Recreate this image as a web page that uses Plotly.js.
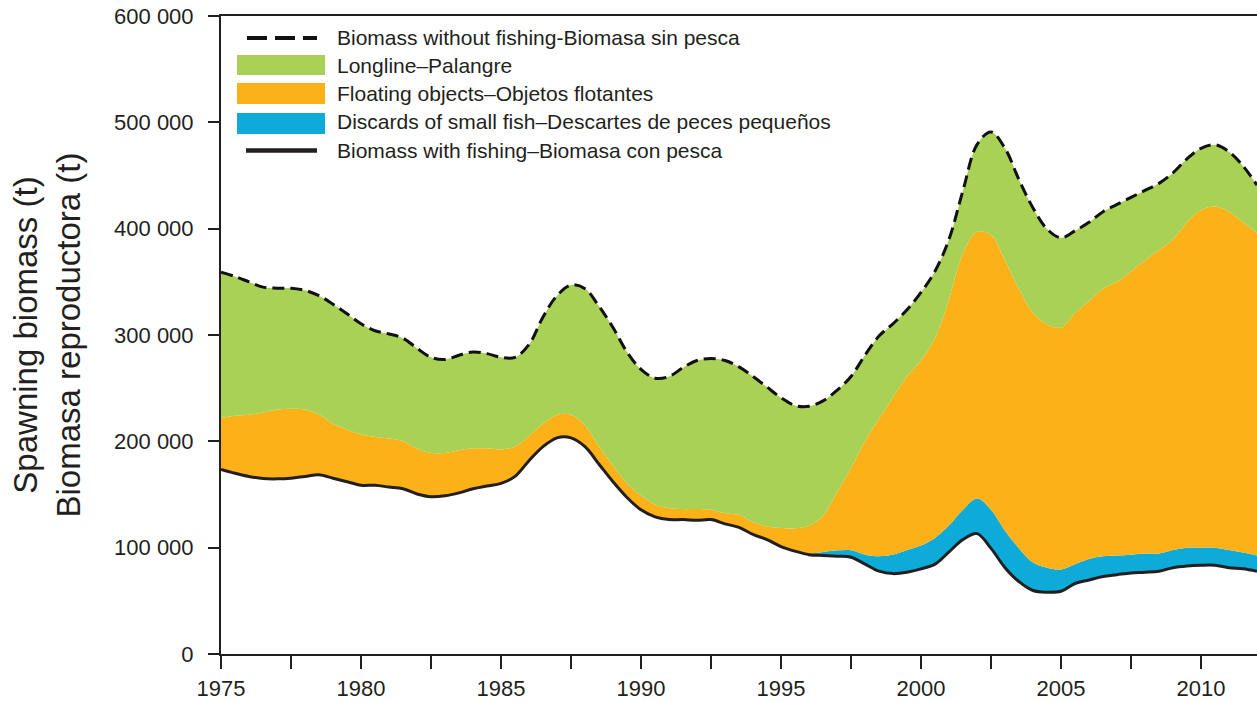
<!DOCTYPE html>
<html>
<head>
<meta charset="utf-8">
<script src="https://cdn.plot.ly/plotly-3.0.1.min.js"></script>
<style>html,body{margin:0;padding:0;background:#fff;}#chart{width:1257px;height:702px;}</style>
</head>
<body>
<div id="chart"></div>
<script>
// Years (half-year steps)
const years = [1975,1975.5,1976,1976.5,1977,1977.5,1978,1978.5,1979,1979.5,
  1980,1980.5,1981,1981.5,1982,1982.5,1983,1983.5,1984,1984.5,
  1985,1985.5,1986,1986.5,1987,1987.5,1988,1988.5,1989,1989.5,
  1990,1990.5,1991,1991.5,1992,1992.5,1993,1993.5,1994,1994.5,
  1995,1995.5,1996,1996.5,1997,1997.5,1998,1998.5,1999,1999.5,
  2000,2000.5,2001,2001.5,2002,2002.5,2003,2003.5,2004,2004.5,
  2005,2005.5,2006,2006.5,2007,2007.5,2008,2008.5,2009,2009.5,
  2010,2010.5,2011,2011.5,2012];

// Biomass with fishing (t)
const withFishing = [173600,170000,167000,165000,164700,165300,167000,168600,165300,162000,
  158700,158700,157000,155400,150500,147900,148800,151500,155400,158000,
  160400,167000,181800,195000,203300,203300,195000,178500,162000,147200,
  135600,129000,126400,126400,125700,126400,122400,119100,112500,107600,
  101000,96700,93400,92700,92000,91000,84500,77900,75600,76900,
  80000,84500,96000,107600,113200,99300,81200,68000,59700,58100,
  59000,66300,69600,72900,74600,76200,76900,77900,81200,82800,
  83500,83500,81200,80200,77900];

// Upper edge of the discards of small fish impact (t)
const plusDiscards = [173600,170000,167000,165000,164700,165300,167000,168600,165300,162000,
  158700,158700,157000,155400,150500,147900,148800,151500,155400,158000,
  160400,167000,181800,195000,203300,203300,195000,178500,162000,147200,
  135600,129000,126400,126400,125700,126400,122400,119100,112500,107600,
  101000,96700,94400,96000,97500,97500,93400,92000,93400,97700,
  102000,109200,120800,135600,146200,135600,115800,99300,86100,81200,
  79500,84500,89400,92000,92700,93400,94400,94400,97700,100000,
  100000,100000,97700,95400,92700];

// Upper edge of the floating-object impact (t)
const plusFloating = [222000,224000,225000,227000,230000,230700,230000,225000,216500,211000,
  206600,204000,202600,200000,193000,189000,189000,191700,193400,193400,
  192400,195000,205000,216500,224800,225000,214900,195000,177000,160400,
  148800,140600,137300,136300,136300,135600,132300,130700,124000,119800,
  118400,118200,120500,130000,152000,175000,200000,221500,241300,261000,
  276000,297000,333700,376600,397000,394000,370000,343000,321000,310000,
  307000,320500,332000,343600,350000,360000,370000,380000,389800,406000,
  417500,420800,416000,406000,396000];

// Biomass without fishing (t)
const withoutFishing = [359000,355000,350000,345000,344000,344000,342000,337000,329000,320000,
  310600,304000,301000,297000,287500,279000,277000,281000,284000,282500,
  279000,279000,291000,317000,337000,347000,343600,327000,307000,284000,
  267700,259400,261000,269300,276000,278000,276000,270000,261000,251000,
  241000,233700,233000,238000,248000,261000,281000,299000,310600,323800,
  340000,360000,390000,436000,479000,491000,475600,446000,419500,399700,
  391400,398000,406000,416000,422800,429400,436000,442600,452500,465700,
  475600,478900,472300,459000,441000];

const legendLabels = [
  'Biomass without fishing-Biomasa sin pesca',
  'Longline\u2013Palangre',
  'Floating objects\u2013Objetos flotantes',
  'Discards of small fish\u2013Descartes de peces peque\u00f1os',
  'Biomass with fishing\u2013Biomasa con pesca'
];

const GREEN = '#a9d155', ORANGE = '#fbb117', BLUE = '#0eaad8', INK = '#231f20';
const FONT = 'Arial, "Liberation Sans", Helvetica, sans-serif';
const spl = {shape: 'spline', smoothing: 1};

const traces = [
  {x: years, y: withFishing, mode: 'lines', line: Object.assign({width: 0, color: INK}, spl), showlegend: false, hoverinfo: 'skip'},
  {x: years, y: plusDiscards, mode: 'lines', fill: 'tonexty', fillcolor: BLUE, line: Object.assign({width: 0, color: BLUE}, spl), name: legendLabels[3], showlegend: false},
  {x: years, y: plusFloating, mode: 'lines', fill: 'tonexty', fillcolor: ORANGE, line: Object.assign({width: 0, color: ORANGE}, spl), name: legendLabels[2], showlegend: false},
  {x: years, y: withoutFishing, mode: 'lines', fill: 'tonexty', fillcolor: GREEN, line: Object.assign({width: 0, color: GREEN}, spl), name: legendLabels[1], showlegend: false},
  {x: years, y: withoutFishing, mode: 'lines', line: Object.assign({width: 3, color: '#111', dash: '12px,6px'}, spl), name: legendLabels[0], showlegend: false},
  {x: years, y: withFishing, mode: 'lines', line: Object.assign({width: 3, color: INK}, spl), name: legendLabels[4], showlegend: false}
];

// custom legend (paper coords of the plot area)
const L = 221, W = 1036, B = 654, H = 638;
const px = v => (v - L) / W;
const py = v => (B - v) / H;
const shapes = [
  {type: 'line', xref: 'paper', yref: 'paper', x0: px(247), x1: px(317), y0: py(38), y1: py(38), line: {color: '#111', width: 4, dash: '20px,8px'}},
  {type: 'rect', xref: 'paper', yref: 'paper', x0: px(237), x1: px(325), y0: py(75), y1: py(55), fillcolor: GREEN, line: {width: 0}},
  {type: 'rect', xref: 'paper', yref: 'paper', x0: px(237), x1: px(325), y0: py(104), y1: py(83), fillcolor: ORANGE, line: {width: 0}},
  {type: 'rect', xref: 'paper', yref: 'paper', x0: px(237), x1: px(325), y0: py(134), y1: py(113), fillcolor: BLUE, line: {width: 0}},
  {type: 'line', xref: 'paper', yref: 'paper', x0: px(246), x1: px(317), y0: py(150.5), y1: py(150.5), line: {color: INK, width: 4.5}}
];
const legendY = [38, 65, 93, 122, 150];
const annotations = legendLabels.map((t, i) => ({
  text: t, xref: 'paper', yref: 'paper', x: px(335), y: py(legendY[i]),
  xanchor: 'left', yanchor: 'middle', showarrow: false,
  font: {family: FONT, size: 21, color: INK}
}));

const layout = {
  width: 1257, height: 702,
  margin: {l: L, r: 0, t: 16, b: 48, pad: 0},
  paper_bgcolor: '#fff', plot_bgcolor: '#fff',
  separators: '. ',
  font: {family: FONT, color: INK},
  showlegend: false,
  xaxis: {
    range: [1975, 2012], tick0: 1975, dtick: 5, ticks: 'outside', ticklen: 13, tickwidth: 2, tickcolor: INK,
    minor: {tick0: 1975, dtick: 2.5, ticks: 'outside', ticklen: 13, tickwidth: 2, tickcolor: INK},
    showline: true, linewidth: 2, linecolor: INK, mirror: true,
    showgrid: false, zeroline: false, automargin: false,
    tickfont: {family: FONT, size: 22, color: INK}, ticklabelstandoff: 1
  },
  yaxis: {
    range: [0, 600000], dtick: 100000, tickformat: ',', ticks: 'outside', ticklen: 11, tickwidth: 2, tickcolor: INK,
    showline: true, linewidth: 2, linecolor: INK,
    showgrid: false, zeroline: false, automargin: false,
    tickfont: {family: FONT, size: 22, color: INK}, ticklabelstandoff: 10,
    title: {text: 'Spawning biomass (t)<br>Biomasa reproductora (t)', font: {family: FONT, size: 33, color: INK}, standoff: 24}
  },
  shapes: shapes,
  annotations: annotations
};

Plotly.newPlot('chart', traces, layout, {staticPlot: true, displayModeBar: false});
</script>
</body>
</html>
